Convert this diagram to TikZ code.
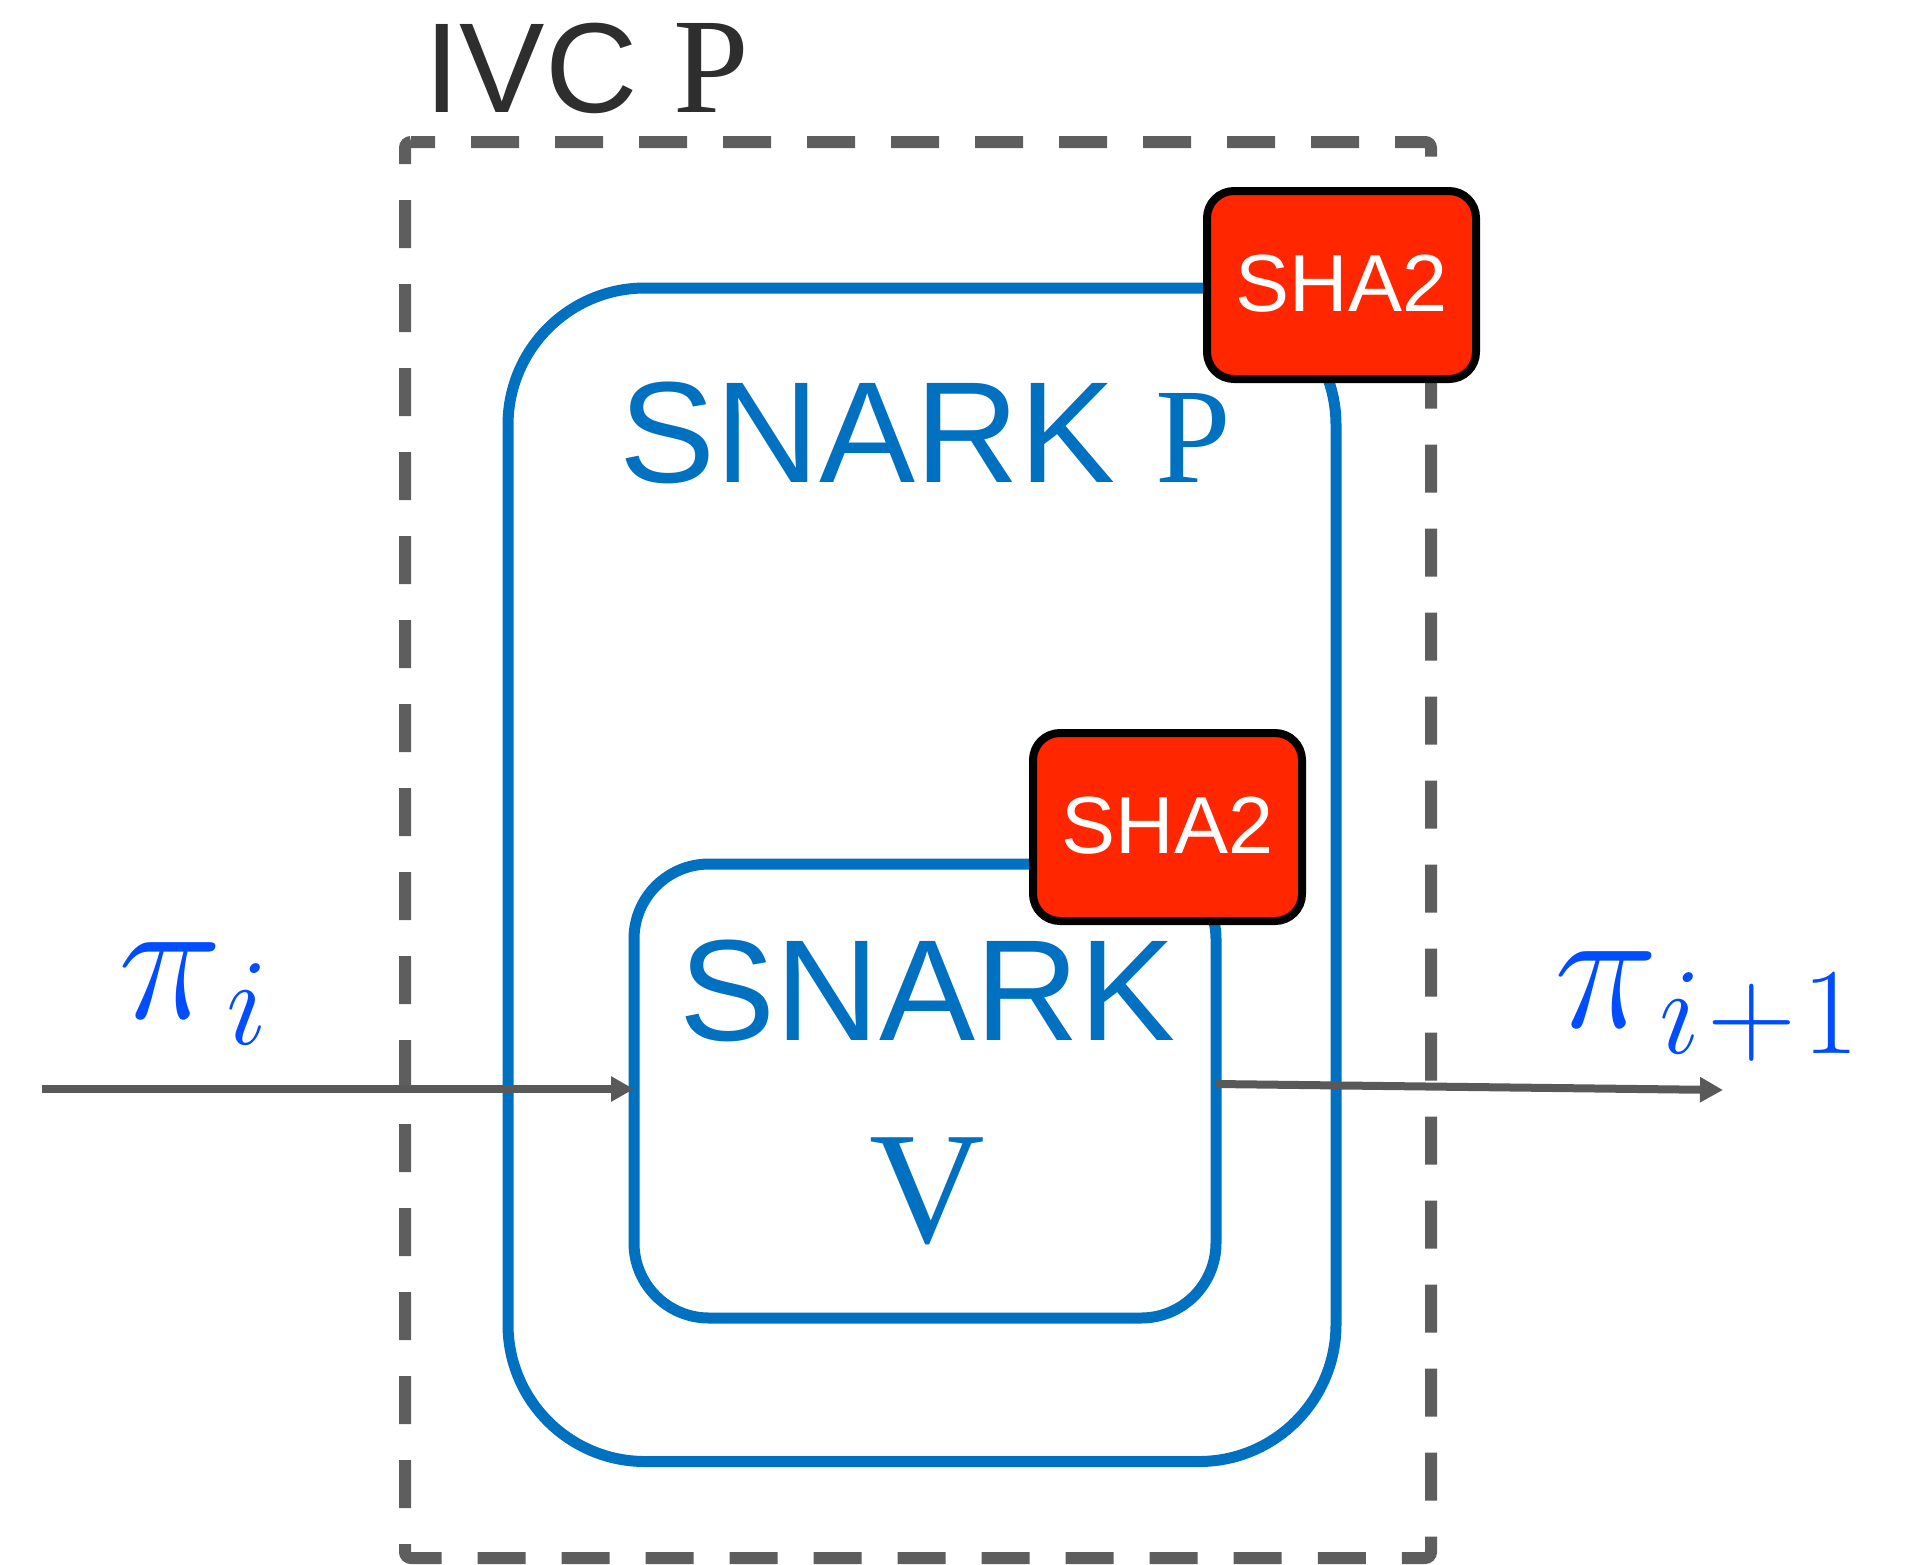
\RequirePackage{fix-cm}
\documentclass[tikz,border=0pt]{standalone}
\usepackage{fontspec}
\setmainfont{Liberation Serif}
\setsansfont{Liberation Sans}
\usetikzlibrary{arrows.meta}
\definecolor{boxblue}{RGB}{0,112,192}
\definecolor{shared}{RGB}{255,38,0}
\definecolor{piblue}{RGB}{0,76,255}
\definecolor{framegray}{RGB}{94,94,94}
\definecolor{arrowgray}{RGB}{89,89,89}
\definecolor{ivcgray}{RGB}{46,46,46}
\tikzset{
  ivcframe/.style={draw=framegray, line width=6pt, dash pattern=on 24pt off 18pt, dash phase=12pt, rounded corners=3pt},
  bluebox/.style={draw=boxblue, line width=5.5pt, outer sep=0pt, inner sep=0pt},
  shabox/.style={draw=black, line width=4pt, fill=shared, rounded corners=13.5pt,
    minimum width=134.5pt, minimum height=94pt, inner sep=0pt, text=white,
    text height=29pt, text depth=3pt,
    font=\sffamily\fontsize{40.5}{48}\selectfont},
  flow/.style={draw=arrowgray, line width=4pt, -{Triangle[length=11.5pt,width=12pt]}},
  bluetext/.style={inner sep=0pt, text=boxblue},
  pitext/.style={inner sep=0pt, text=piblue, font=\fontsize{88}{100}\selectfont}
}
\begin{document}
\begin{tikzpicture}[x=0.5pt,y=-0.5pt]
\useasboundingbox (0,0) rectangle (1905,1564);
% IVC frame
\draw[ivcframe] (405,142) -- (1431,142) -- (1431,1558) -- (405,1558) -- cycle;
\node[anchor=base west, inner sep=0pt, text=ivcgray] (ivclabel) at (424,112)
  {\sffamily\fontsize{64}{70}\selectfont IVC {\rmfamily\fontsize{68}{70}\selectfont P}};
% SNARK boxes
\node[bluebox, minimum width=414pt, minimum height=586.75pt, rounded corners=68.5pt] (snarkP) at (922,874.75) {};
\node[bluebox, minimum width=291pt, minimum height=227pt, rounded corners=37.5pt] (snarkV) at (925,1091) {};
% arrows
\coordinate (pin) at (42,1089);
\coordinate (pout) at (1723,1090);
\draw[flow] (pin) -- (snarkV.west |- pin);
\draw[flow] ([yshift=3.5pt]snarkV.east) -- (pout);
% SHA2 boxes
\node[shabox] (sha1) at (1341.5,285) {SHA2};
\node[shabox] (sha2) at (1167.5,827) {SHA2};
% texts
\node[bluetext, anchor=base west] (tP) at (619,482)
  {\sffamily\fontsize{72}{80}\selectfont SNARK {\rmfamily\fontsize{68}{80}\selectfont P}};
\node[bluetext, anchor=base west] (tV1) at (679,1040)
  {\sffamily\fontsize{72}{80}\selectfont SNARK};
\node[bluetext, anchor=base] (tV2) at (927,1242)
  {\rmfamily\fontsize{80}{90}\selectfont V};
\node[pitext, anchor=base west] (pii) at (118,1018) {$\pi_{\mkern1.5mu i}$};
\node[pitext, anchor=base west] (pii1) at (1554,1027) {$\pi_{\mkern1mu i\mskip1mu+\mskip1mu1}$};
\end{tikzpicture}
\end{document}
